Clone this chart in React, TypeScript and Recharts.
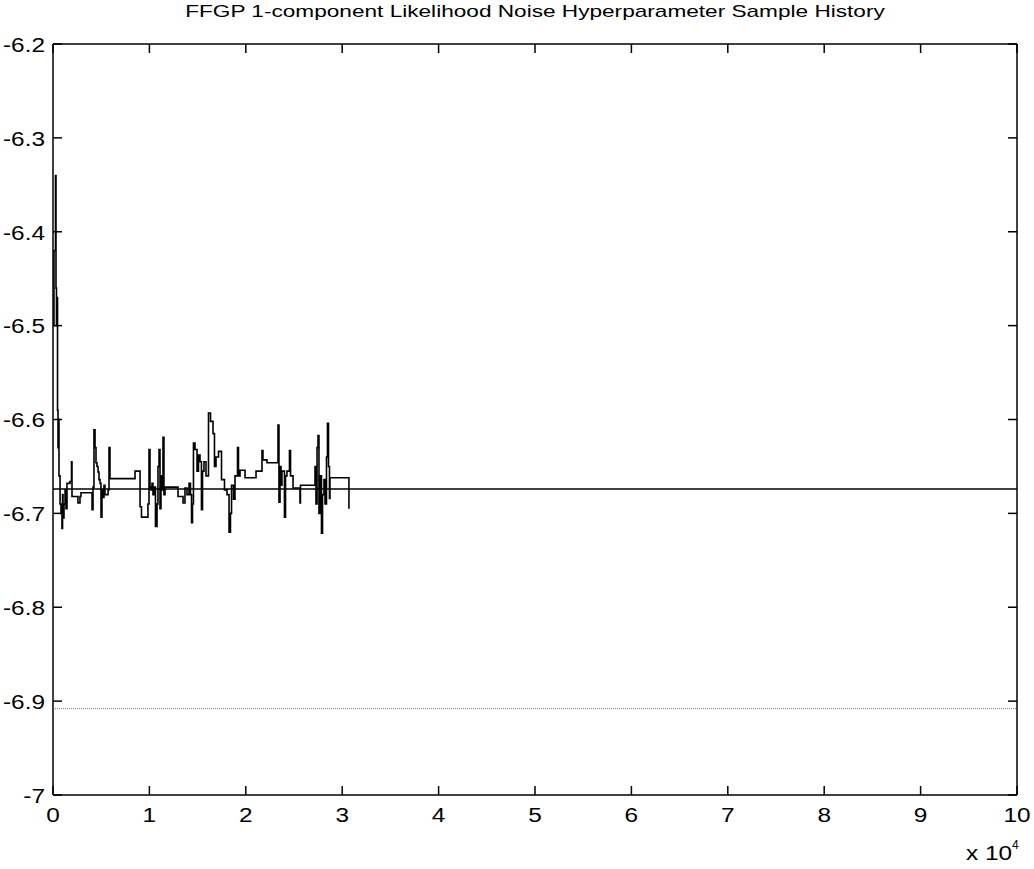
import { Label, Line, LineChart, ReferenceLine, XAxis, YAxis } from "recharts";

// sampler iteration and the noise hyperparameter value kept from that step on
const ITER = [
  0, 100, 260, 310, 360, 420, 470, 520, 570, 620, 730, 830, 930, 990, 1040, 1140, 1250, 1350, 1450,
  1760, 1920, 1970, 2590, 2800, 2900, 4050, 4150, 4250, 4360, 4460, 4560, 4670, 4770, 4880, 4980,
  5080, 5190, 5290, 5390, 5710, 5810, 5910, 8510, 9030, 9180, 9850, 9960, 10060, 10170, 10270,
  10370, 10480, 10630, 10790, 10890, 11000, 11100, 11200, 11310, 11410, 11510, 11620, 12970, 13490,
  13690, 13900, 14110, 14260, 14370, 14470, 14570, 14730, 14940, 15090, 15250, 15400, 15510, 15660,
  15870, 16130, 16340, 16600, 16750, 16910, 17170, 17480, 17790, 18050, 18260, 18410, 18520, 18720,
  18880, 19140, 19240, 19400, 19920, 21060, 21680, 21780, 22200, 23340, 23440, 23550, 23650, 23750,
  24010, 24120, 24270, 24530, 24640, 24900, 25620, 25670, 27180, 27280, 27390, 27490, 27590, 27700,
  27850, 27960, 28110, 28220, 28370, 28470, 28580, 28680, 28730, 30700,
];
const NOISE = [
  -6.5, -6.42, -6.34, -6.46, -6.5, -6.47, -6.59, -6.63, -6.6, -6.66, -6.69, -6.7, -6.716, -6.68,
  -6.705, -6.69, -6.675, -6.695, -6.668, -6.666, -6.645, -6.682, -6.689, -6.682, -6.678, -6.696,
  -6.672, -6.611, -6.63, -6.646, -6.65, -6.656, -6.664, -6.668, -6.704, -6.675, -6.683, -6.67,
  -6.68, -6.675, -6.63, -6.663, -6.655, -6.693, -6.704, -6.69, -6.632, -6.672, -6.675, -6.668,
  -6.68, -6.672, -6.714, -6.69, -6.65, -6.632, -6.695, -6.66, -6.675, -6.619, -6.68, -6.672,
  -6.682, -6.689, -6.673, -6.68, -6.668, -6.68, -6.71, -6.69, -6.625, -6.632, -6.655, -6.638,
  -6.645, -6.696, -6.655, -6.645, -6.66, -6.593, -6.602, -6.615, -6.65, -6.64, -6.634, -6.664,
  -6.675, -6.68, -6.72, -6.7, -6.67, -6.685, -6.66, -6.63, -6.66, -6.654, -6.662, -6.655, -6.633,
  -6.643, -6.646, -6.606, -6.688, -6.65, -6.67, -6.655, -6.704, -6.66, -6.655, -6.633, -6.66,
  -6.673, -6.689, -6.67, -6.65, -6.69, -6.63, -6.617, -6.7, -6.66, -6.721, -6.68, -6.664, -6.69,
  -6.64, -6.604, -6.65, -6.684, -6.662, -6.695,
];

const TRUE_LEVEL = -6.674;
const FLOOR_LEVEL = -6.908;

const X_TICKS = [0, 10000, 20000, 30000, 40000, 50000, 60000, 70000, 80000, 90000, 100000];
const Y_TICKS = [-7, -6.9, -6.8, -6.7, -6.6, -6.5, -6.4, -6.3, -6.2];

const FONT = '"Liberation Sans", Arial, sans-serif';
const STRETCH = 1.25;

// plot box edges (matches the chart margins below), used for the inward ticks
const W = 1034;
const H = 869;
const M = { top: 44, right: 17, bottom: 44, left: 0 };
const Y_AXIS_W = 53;
const X_AXIS_H = 30;
const BOX_TOP = M.top;
const BOX_BOTTOM = H - M.bottom - X_AXIS_H;
const BOX_LEFT = M.left + Y_AXIS_W;
const BOX_RIGHT = W - M.right;
const TICK_LEN = 9;

const data = ITER.map((it, i) => ({ it, v: NOISE[i] }));

function XTick(props: any) {
  const { x, y, payload } = props;
  return (
    <g>
      <line x1={x} x2={x} y1={BOX_BOTTOM} y2={BOX_BOTTOM - TICK_LEN} stroke="#000" strokeWidth={1.5} />
      <line x1={x} x2={x} y1={BOX_TOP} y2={BOX_TOP + TICK_LEN} stroke="#000" strokeWidth={1.5} />
      <g transform={`translate(${x},${y})`}>
        <text transform={`scale(${STRETCH},1)`} textAnchor="middle" dy="0.71em" fontSize={19.5} fontFamily={FONT} fill="#000">
          {payload.value / 10000}
        </text>
      </g>
    </g>
  );
}

function YTick(props: any) {
  const { x, y, payload } = props;
  return (
    <g>
      <line x1={BOX_LEFT} x2={BOX_LEFT + TICK_LEN} y1={y} y2={y} stroke="#000" strokeWidth={1.5} />
      <line x1={BOX_RIGHT} x2={BOX_RIGHT - TICK_LEN} y1={y} y2={y} stroke="#000" strokeWidth={1.5} />
      <g transform={`translate(${x},${y})`}>
        <text transform={`scale(${STRETCH},1)`} textAnchor="end" dy="0.4em" fontSize={19.5} fontFamily={FONT} fill="#000">
          {String(payload.value)}
        </text>
      </g>
    </g>
  );
}

function ScaleNote(props: any) {
  const vb = props.viewBox;
  const right = vb.x + vb.width;
  return (
    <g transform={`translate(${right - 5},${vb.y + 65})`}>
      <text transform={`scale(${STRETCH},1)`} textAnchor="end" fontSize={19.5} fontFamily={FONT} fill="#000">
        x 10
      </text>
      <text x={0} y={-11} fontSize={12} fontFamily={FONT} fill="#000">
        4
      </text>
    </g>
  );
}

const axisStroke = { stroke: "#000", strokeWidth: 1.5 };

export default function App() {
  return (
    <div style={{ position: "absolute", left: 0, top: 0, width: W, height: H, background: "#fff" }}>
      <div
        style={{
          position: "absolute",
          left: BOX_LEFT,
          top: 2,
          width: BOX_RIGHT - BOX_LEFT,
          textAlign: "center",
          fontFamily: FONT,
          fontSize: 17,
          color: "#000",
          transform: "scaleX(1.33)",
          transformOrigin: "center",
          whiteSpace: "nowrap",
        }}
      >
        FFGP 1-component Likelihood Noise Hyperparameter Sample History
      </div>
      <LineChart width={W} height={H} data={data} margin={M}>
        <XAxis
          xAxisId="b"
          dataKey="it"
          type="number"
          domain={[0, 100000]}
          allowDataOverflow
          ticks={X_TICKS}
          interval={0}
          height={X_AXIS_H}
          tickSize={0}
          tickMargin={13}
          axisLine={axisStroke}
          tickLine={false}
          tick={<XTick />}
        >
          <Label content={<ScaleNote />} />
        </XAxis>
        <YAxis
          yAxisId="l"
          type="number"
          domain={[-7, -6.2]}
          allowDataOverflow
          ticks={Y_TICKS}
          interval={0}
          width={Y_AXIS_W}
          tickSize={0}
          tickMargin={8}
          axisLine={axisStroke}
          tickLine={false}
          tick={<YTick />}
        />
        {/* top and right sides of the box */}
        <ReferenceLine xAxisId="b" yAxisId="l" y={-6.2} stroke="#000" strokeWidth={1.5} />
        <ReferenceLine xAxisId="b" yAxisId="l" x={100000} stroke="#000" strokeWidth={1.5} />
        <ReferenceLine xAxisId="b" yAxisId="l" y={FLOOR_LEVEL} stroke="#777" strokeWidth={1} strokeDasharray="1 1" />
        <ReferenceLine xAxisId="b" yAxisId="l" y={TRUE_LEVEL} stroke="#000" strokeWidth={1.5} />
        <Line
          xAxisId="b"
          yAxisId="l"
          type="stepAfter"
          dataKey="v"
          stroke="#000"
          strokeWidth={1.6}
          dot={false}
          isAnimationActive={false}
        />
      </LineChart>
    </div>
  );
}
